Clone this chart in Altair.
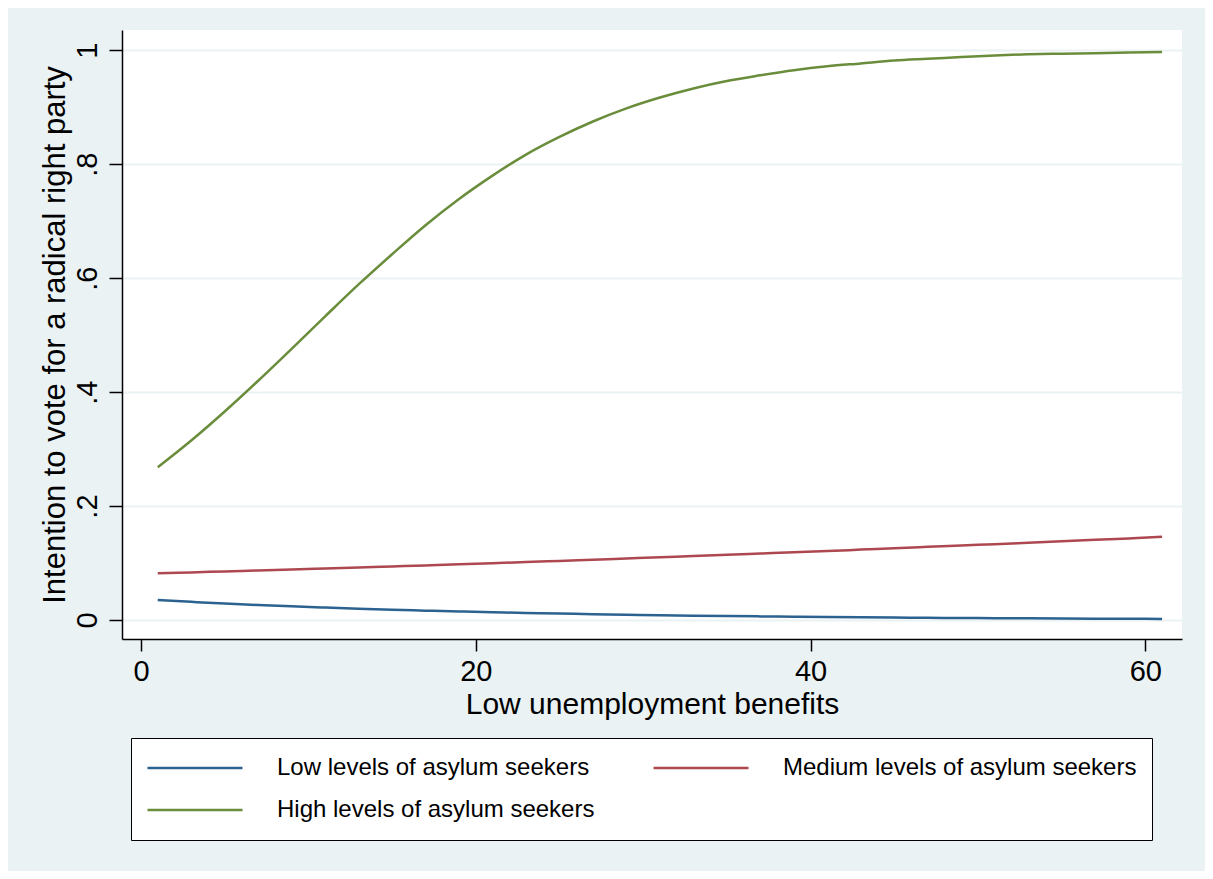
import altair as alt
import pandas as pd

# ---- data ----
x_vals = [1, 3, 5, 7, 9, 11, 13, 15, 17, 19, 21, 23, 25, 27, 29, 31,
          33, 35, 37, 39, 41, 43, 45, 47, 49, 51, 53, 55, 57, 59, 61]

low_vals = [0.035, 0.0319, 0.029, 0.0264, 0.0240, 0.0219, 0.0199, 0.0181,
            0.0165, 0.0150, 0.0136, 0.0124, 0.0113, 0.0103, 0.0093, 0.0085,
            0.0077, 0.0070, 0.0064, 0.0058, 0.0053, 0.0048, 0.0043, 0.0039,
            0.0036, 0.0033, 0.0030, 0.0027, 0.0024, 0.0022, 0.0020]

medium_vals = [0.082, 0.0836, 0.0853, 0.0870, 0.0887, 0.0904, 0.0922, 0.0940,
               0.0959, 0.0978, 0.0998, 0.1018, 0.1038, 0.1059, 0.1080, 0.1100,
               0.1123, 0.1145, 0.1167, 0.1190, 0.1210, 0.1236, 0.1260, 0.1284,
               0.1309, 0.1330, 0.1355, 0.1381, 0.1407, 0.1433, 0.1460]

high_vals = [0.268, 0.315, 0.366, 0.420, 0.476, 0.533, 0.589, 0.642,
             0.693, 0.739, 0.780, 0.817, 0.848, 0.875, 0.898, 0.917,
             0.933, 0.946, 0.956, 0.965, 0.972, 0.977, 0.982, 0.985,
             0.988, 0.991, 0.993, 0.994, 0.995, 0.996, 0.997]

series_names = ["Low levels of asylum seekers",
                "Medium levels of asylum seekers",
                "High levels of asylum seekers"]
series_colors = ["#2c6290", "#ad4850", "#6a8d3c"]

x_ticks = [0, 20, 40, 60]
y_ticks = [0, 0.2, 0.4, 0.6, 0.8, 1.0]

rows = []
for name, vals in zip(series_names, [low_vals, medium_vals, high_vals]):
    for xv, yv in zip(x_vals, vals):
        rows.append({"x": xv, "y": yv, "series": name})
df = pd.DataFrame(rows)

FONT = "Liberation Sans"

chart = alt.Chart(df).mark_line(strokeWidth=2.5, clip=True, interpolate="monotone").encode(
    x=alt.X(
        "x:Q",
        scale=alt.Scale(domain=[-1.135, 62.19], nice=False, zero=False),
        axis=alt.Axis(
            values=x_ticks, title="Low unemployment benefits", grid=False,
            labelFontSize=29, labelFont=FONT, labelColor="black",
            titleFontSize=30, titleFont=FONT, titleColor="black", titleFontWeight="normal",
            domainColor="black", domainWidth=1.5, tickColor="black", tickWidth=1.5,
            tickSize=12, labelPadding=6, titlePadding=3,
        ),
    ),
    y=alt.Y(
        "y:Q",
        scale=alt.Scale(domain=[-0.0333, 1.0356], nice=False, zero=False),
        axis=alt.Axis(
            values=y_ticks, title="Intention to vote for a radical right party",
            labelExpr="datum.value == 0 ? '0' : (datum.value == 1 ? '1' : replace(format(datum.value, '.1f'), '0.', '.'))",
            grid=True, gridColor="#EAF2F3", gridWidth=2,
            labelFontSize=29, labelFont=FONT, labelColor="black",
            labelAngle=270, labelAlign="center", labelBaseline="bottom",
            titleFontSize=31, titleFont=FONT, titleColor="black", titleFontWeight="normal",
            domainColor="black", domainWidth=1.5, tickColor="black", tickWidth=1.5,
            tickSize=13, labelPadding=7, titlePadding=2,
        ),
    ),
    color=alt.Color(
        "series:N",
        scale=alt.Scale(domain=series_names, range=series_colors),
        legend=alt.Legend(
            title=None, orient="none", legendX=9, legendY=708, columns=2,
            direction="horizontal", clipHeight=30,
            symbolType="stroke", symbolSize=9025, symbolStrokeWidth=2.5,
            labelFontSize=24, labelFont=FONT, labelColor="black", labelLimit=600,
            labelOffset=33, columnPadding=57, rowPadding=12, padding=15,
            fillColor="white", strokeColor="black",
        ),
    ),
).properties(
    width=1060,
    height=609,
    background="#EAF2F3",
    padding={"left": 114, "top": 22, "right": 23, "bottom": 232},
    autosize=alt.AutoSizeParams(type="none"),
).configure_view(fill="white", stroke=None)

chart.save("out.html", embed_options={"renderer": "svg", "actions": False})
